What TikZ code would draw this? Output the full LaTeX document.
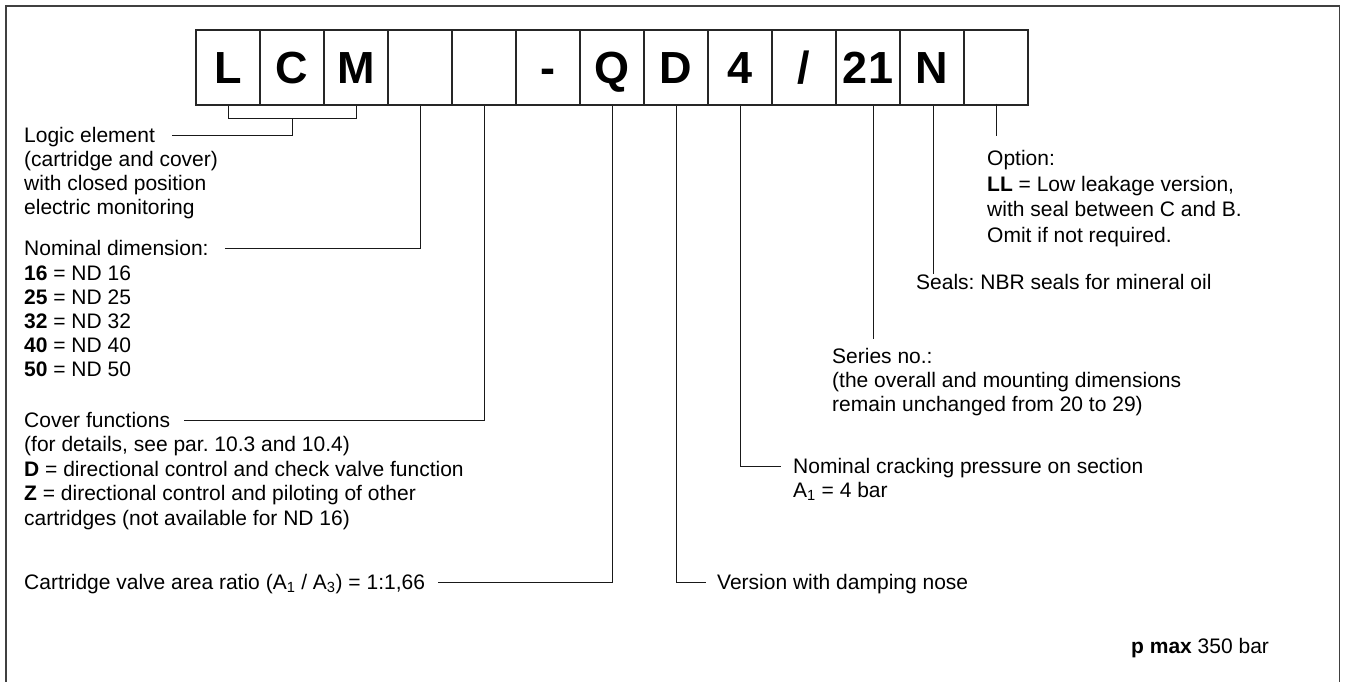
\documentclass[tikz,border=0pt]{standalone}
\usepackage{fontspec}
\setmainfont{Liberation Sans}
\frenchspacing
\begin{document}
\begin{tikzpicture}[x=1pt,y=-1pt,
  box/.style={draw=black!85,line width=1.1pt,minimum width=64pt,minimum height=75pt,inner sep=0pt,
    font=\fontsize{45}{50}\selectfont\bfseries,text height=32.5pt,text depth=0pt},
  txt/.style={anchor=west,inner sep=0pt,text height=15pt,text depth=0pt,font=\fontsize{21}{24}\selectfont},
  lead/.style={draw=black!90,line width=0.9pt}]
\useasboundingbox (0,0) rectangle (1349,682);
\draw[draw=black!75,line width=1.8pt] (6,683) -- (6,6) -- (1339.5,6) -- (1339.5,683);
% code boxes
\node[box] (b1) at (228,67.5) {L};
\node[box] (b2) at (292,67.5) {C};
\node[box] (b3) at (356,67.5) {M};
\node[box] (b4) at (420,67.5) {};
\node[box] (b5) at (484,67.5) {};
\node[box] (b6) at (548,67.5) {-};
\node[box] (b7) at (612,67.5) {Q};
\node[box] (b8) at (676,67.5) {D};
\node[box] (b9) at (740,67.5) {4};
\node[box] (b10) at (804,67.5) {/};
\node[box] (b11) at (868,67.5) {21};
\node[box] (b12) at (932,67.5) {N};
\node[box] (b13) at (996,67.5) {};
% left texts
\node[txt] (logic) at (24,135) {Logic element};
\node[txt] (logic2) at (24,159) {(cartridge and cover)};
\node[txt] (logic3) at (24,183) {with closed position};
\node[txt] (logic4) at (24,207) {electric monitoring};
\node[txt] (nomdim) at (24,248) {Nominal dimension:};
\node[txt] (nd16) at (24,273) {\textbf{16} = ND 16};
\node[txt] (nd25) at (24,297) {\textbf{25} = ND 25};
\node[txt] (nd32) at (24,321) {\textbf{32} = ND 32};
\node[txt] (nd40) at (24,345) {\textbf{40} = ND 40};
\node[txt] (nd50) at (24,369) {\textbf{50} = ND 50};
\node[txt] (cover) at (24,420) {Cover functions};
\node[txt] (cover2) at (24,444) {(for details, see par. 10.3 and 10.4)};
\node[txt] (coverD) at (24,469) {\textbf{D} = directional control and check valve function};
\node[txt] (coverZ) at (24,493) {\textbf{Z} = directional control and piloting of other};
\node[txt] (coverZ2) at (24,518) {cartridges (not available for ND 16)};
\node[txt] (ratio) at (24,582) {Cartridge valve area ratio (A\textsubscript{1} / A\textsubscript{3}) = 1:1,66};
% right texts
\node[txt] (version) at (717,582) {Version with damping nose};
\node[txt] (crack) at (793,466) {Nominal cracking pressure on section};
\node[txt] (crack2) at (793,490) {A\textsubscript{1} = 4 bar};
\node[txt] (series) at (832,356) {Series no.:};
\node[txt] (series2) at (832,380) {(the overall and mounting dimensions};
\node[txt] (series3) at (832,404) {remain unchanged from 20 to 29)};
\node[txt] (seals) at (916,282) {Seals: NBR seals for mineral oil};
\node[txt] (option) at (987,158) {Option:};
\node[txt] (option2) at (987,184) {\textbf{LL} = Low leakage version,};
\node[txt] (option3) at (987,209) {with seal between C and B.};
\node[txt] (option4) at (987,235) {Omit if not required.};
\node[txt] (pmax) at (1131,646) {\textbf{p max} 350 bar};
% leaders
\coordinate (brk) at ([yshift=-13pt]b2.south);
\draw[lead] (b1.south) -- ++(0,13) -| (b3.south);
\draw[lead] ([xshift=17pt]logic.east) -| (brk);
\draw[lead] ([xshift=16pt]nomdim.east) -| (b4.south);
\draw[lead] ([xshift=14pt]cover.east) -| (b5.south);
\draw[lead] ([xshift=13pt]ratio.east) -| (b7.south);
\draw[lead] (b8.south) |- ([xshift=-11pt]version.west);
\draw[lead] (b9.south) |- ([xshift=-12pt]crack.west);
\draw[lead] ([xshift=5pt]b11.south) -- ++(0,233);
\draw[lead] ([xshift=1pt]b12.south) -- ++(0,168);
\coordinate (tick) at ([xshift=1pt,yshift=132pt]b12.south);
\draw[lead] ([xshift=-4pt]tick) -- ++(8,0);
\draw[lead] ([yshift=2pt]b13.south) -- ++(0,32);
\end{tikzpicture}
\end{document}
